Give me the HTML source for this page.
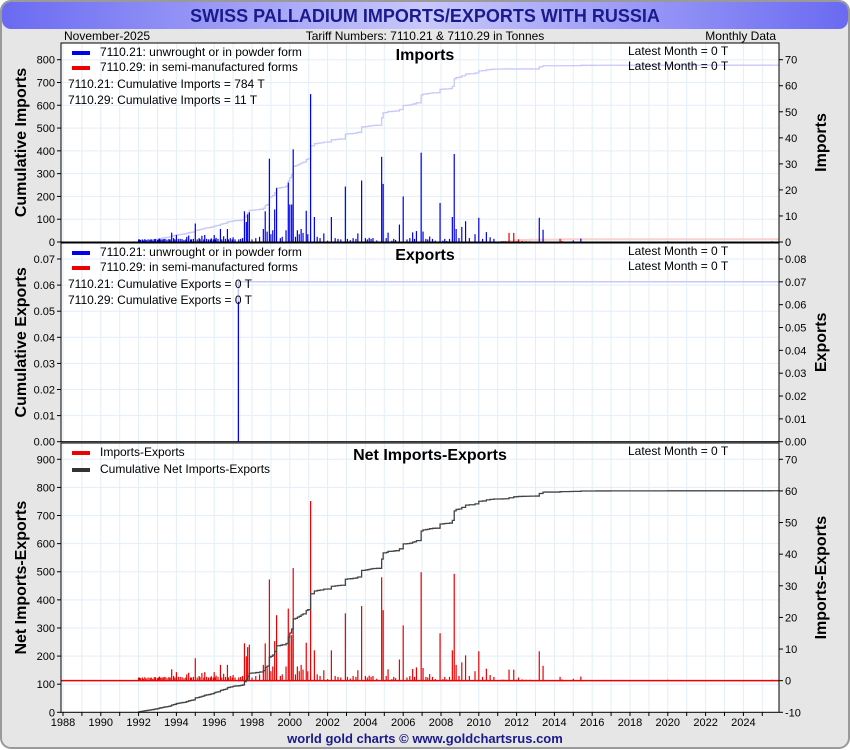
<!DOCTYPE html>
<html><head><meta charset="utf-8"><style>
body{margin:0;background:#fff;}
svg{display:block;font-family:"Liberation Sans",sans-serif;}
</style></head><body>
<svg id="c" width="850" height="750" viewBox="0 0 850 750" xmlns="http://www.w3.org/2000/svg">
<defs><linearGradient id="tg" x1="0" x2="1"><stop offset="0" stop-color="#6a6af2"/><stop offset="0.5" stop-color="#c8c8fb"/><stop offset="1" stop-color="#6a6af2"/></linearGradient></defs>
<rect x="1" y="1" width="848" height="747" rx="10" fill="#e6e6e6" stroke="#9a9a9a" stroke-width="2"/>
<rect x="2" y="2" width="846" height="27" rx="9" fill="url(#tg)"/>
<text x="425" y="22" text-anchor="middle" font-size="18" font-weight="bold" fill="#1a1a8c">SWISS PALLADIUM IMPORTS/EXPORTS WITH RUSSIA</text>
<text x="64" y="40" font-size="12">November-2025</text>
<text x="425" y="40" font-size="12" text-anchor="middle">Tariff Numbers: 7110.21 &amp; 7110.29 in Tonnes</text>
<text x="776" y="40" font-size="12" text-anchor="end">Monthly Data</text>
<text x="425" y="743" font-size="13" font-weight="bold" text-anchor="middle" fill="#1a1a8c">world gold charts © www.goldchartsrus.com</text>
<g id="g"></g>
</svg>
<script>
// 7110.21 imports (T, monthly)
const imp21Years=[1992.0,1992.05,1992.1,1992.2,1992.25,1992.33,1992.4,1992.5,1992.6,1992.67,1992.75,1992.83,1992.9,1993.0,1993.05,1993.1,1993.17,1993.25,1993.33,1993.4,1993.5,1993.6,1993.67,1993.75,1993.85,1993.92,1994.0,1994.1,1994.2,1994.3,1994.4,1994.5,1994.55,1994.65,1994.75,1994.8,1994.9,1995.0,1995.1,1995.2,1995.25,1995.35,1995.45,1995.5,1995.6,1995.7,1995.8,1995.85,1995.95,1996.0,1996.05,1996.1,1996.2,1996.33,1996.4,1996.5,1996.6,1996.7,1996.75,1996.85,1996.95,1997.0,1997.1,1997.3,1997.4,1997.5,1997.6,1997.7,1997.77,1997.86,1998.0,1998.2,1998.4,1998.6,1998.7,1998.8,1998.92,1999.0,1999.1,1999.2,1999.3,1999.5,1999.6,1999.8,1999.92,2000.0,2000.1,2000.18,2000.3,2000.4,2000.5,2000.6,2000.7,2000.87,2000.95,2001.1,2001.3,2001.45,2001.6,2001.8,2002.0,2002.2,2002.4,2002.55,2002.7,2002.94,2003.05,2003.2,2003.35,2003.5,2003.6,2003.8,2004.0,2004.1,2004.2,2004.3,2004.4,2004.6,2004.86,2004.94,2005.1,2005.2,2005.4,2005.5,2005.6,2005.8,2006.0,2006.2,2006.35,2006.5,2006.6,2006.7,2006.95,2007.05,2007.2,2007.3,2007.4,2007.55,2007.7,2007.95,2008.1,2008.2,2008.3,2008.45,2008.6,2008.7,2008.8,2008.95,2009.1,2009.3,2009.5,2009.8,2010.0,2010.2,2010.4,2010.6,2010.8,2011.2,2011.4,2013.2,2013.4,2015.0,2015.4,2016.2,2017.0,2020.0,2025.5];
const imp21Vals=[1.0,1.0,0.8,1.0,0.6,1.1,0.7,1.0,0.9,1.0,0.6,1.1,1.1,0.8,1.0,1.3,1.0,1.0,1.1,1.2,0.9,1.1,1.0,3.6,1.5,1.0,2.7,1.2,1.2,1.1,0.8,1.0,2.0,2.5,1.0,1.0,1.2,7.1,1.0,1.5,1.1,2.4,1.0,2.7,1.2,1.0,1.0,1.4,1.0,2.7,1.0,1.6,1.2,5.0,1.0,2.2,1.2,5.0,1.0,1.5,1.0,1.8,1.0,1.0,1.2,1.5,11.8,7.7,10.6,11.4,1.0,1.5,2.0,5.0,11.8,4.0,32.0,3.0,4.5,12.5,20.7,1.5,2.0,4.5,22.8,14.4,14.4,35.6,2.0,4.5,3.0,5.0,3.5,12.0,3.0,56.8,9.6,2.0,1.5,3.3,0.5,9.6,1.5,1.2,1.0,21.3,1.2,0.7,1.5,1.2,3.3,23.6,1.5,1.0,1.6,1.2,1.5,0.6,32.7,22.3,1.5,3.6,0.5,1.2,0.8,6.7,17.5,1.0,1.5,3.7,1.2,4.2,34.3,4.0,1.2,1.0,2.1,1.2,0.5,15.0,0.5,1.2,0.4,1.2,9.6,33.8,5.0,1.5,5.8,8.0,1.5,3.0,9.3,1.2,3.8,1.8,1.2,0.3,0.3,9.3,4.7,0.6,1.3,0.2,0.2,0.3,0.3];
// 7110.29 imports
const imp29Years=[2011.3,2011.6,2011.85,2012.0,2012.1,2012.3,2012.5,2012.7,2013.0,2013.3,2013.5,2014.3,2014.4,2014.8];
const imp29Vals=[0.3,3.5,3.5,0.3,1.0,0.4,0.3,0.3,0.2,0.2,0.2,1.2,0.4,0.2];
// exports
const exp21Years=[1997.28];
const exp21Vals=[0.0613];
const yearTicks=[1988,1990,1992,1994,1996,1998,2000,2002,2004,2006,2008,2010,2012,2014,2016,2018,2020,2022,2024];

const NS="http://www.w3.org/2000/svg";
const G=document.getElementById('g');
const X0=61,X1=779;
const xs=y=>63+(y-1988)*18.9;
function el(t,a,p){const e=document.createElementNS(NS,t);for(const k in a)e.setAttribute(k,a[k]);(p||G).appendChild(e);return e;}
function txt(x,y,s,a){const e=el('text',Object.assign({x:x,y:y,'font-size':12},a||{}));e.textContent=s;return e;}
function cum(ys,vs){const idx=ys.map((y,i)=>i).sort((a,b)=>ys[a]-ys[b]);const o=[];let s=0;idx.forEach(i=>{s+=vs[i];o.push([ys[i],s]);});return o;}

const P=[
 {name:'imports',top:43,bot:242,L:[0,800,100,0],R:[0,70,10],lt:'Cumulative Imports',rt:'Imports',title:'Imports'},
 {name:'exports',top:243,bot:441.7,L:[0,0.07,0.01,2],R:[0,0.08,0.01],lt:'Cumulative Exports',rt:'Exports',title:'Exports'},
 {name:'net',top:443,bot:712.3,L:[0,900,100,0],R:[-10,70,10],lt:'Net Imports-Exports',rt:'Imports-Exports',title:'Net Imports-Exports'}
];
const sc={
 imports:{ly:v=>242-v*(242-59.7)/800, ry:v=>242-v*(242-59.7)/70},
 exports:{ly:v=>441.7-v*(441.7-259)/0.07, ry:v=>441.7-v*(441.7-259)/0.08},
 net:{ly:v=>712.3-v*(712.3-459.3)/900, ry:v=>712.3-(v+10)*(712.3-459.3)/80}
};
P.forEach(p=>{
 const s=sc[p.name];
 const pg=el('g',{});
 
 
 const r=el('rect',{x:X0,y:p.top,width:X1-X0,height:p.bot-p.top,fill:'#fff'},pg);
 
 
 for(let y=1988;y<=2025;y++){const l=el('line',{x1:xs(y),x2:xs(y),y1:p.top,y2:p.bot,stroke:'#e2eef8','stroke-width':1});
  }
 for(let v=p.L[0];v<=p.L[1]+1e-9;v+=p.L[2]){const yy=s.ly(v);
  el('line',{x1:X0,x2:X1,y1:yy,y2:yy,stroke:'#e2eef8','stroke-width':1});
  el('line',{x1:X0-4,x2:X0,y1:yy,y2:yy,stroke:'#000'});
  const t=txt(X0-6,yy+4,v.toFixed(p.L[3]),{'text-anchor':'end','font-size':11});
  }
 for(let v=p.R[0];v<=p.R[1]+1e-9;v+=p.R[2]){const yy=s.ry(v);
  el('line',{x1:X1,x2:X1+4,y1:yy,y2:yy,stroke:'#000'});
  const t=txt(X1+6,yy+4,p.name==='exports'?v.toFixed(2):String(Math.round(v)),{'font-size':11});
  }
 const cy=(p.top+p.bot)/2;
 const lt=txt(0,0,p.lt,{'font-size':16,'font-weight':'bold','text-anchor':'middle',transform:`translate(26,${cy}) rotate(-90)`});
 
 const rt=txt(0,0,p.rt,{'font-size':16,'font-weight':'bold','text-anchor':'middle',transform:`translate(826,${cy}) rotate(-90)`});
 
 const tt=txt(p.name==='net'?430:425,p.top+17,p.title,{'font-size':16,'font-weight':'bold','text-anchor':'middle'});
 
});

function bars(ys,vs,ry,color,nm){ys.forEach((y,i)=>{const x=xs(y),y0=ry(0),y1=ry(vs[i]);
 const b=el('rect',{x:x-0.6,y:Math.min(y0,y1),width:1.2,height:Math.max(0.6,Math.abs(y0-y1)),fill:color});
 });}
function stepLine(pts,start,ly,color,w,nm){let d=`M${xs(start)},${ly(0)}`;let prev=0;
 pts.forEach(([y,v])=>{d+=` L${xs(y)},${ly(prev)} L${xs(y)},${ly(v)}`;prev=v;});
 d+=` L${X1},${ly(prev)}`;
 const e=el('path',{d:d,fill:'none',stroke:color,'stroke-width':w});
 }

const si=sc.imports;
stepLine(cum(imp21Years,imp21Vals),1992,si.ly,'#c8c8f8',1.3,'cumulative-imports-7110-21');
stepLine(cum(imp29Years,imp29Vals),2011.3,si.ly,'#fbd0d0',2,'cumulative-imports-7110-29');
bars(imp21Years,imp21Vals,si.ry,'#0000ee','import-bar-7110-21');
bars(imp29Years,imp29Vals,si.ry,'#ee0000','import-bar-7110-29');
const se=sc.exports;
stepLine(cum(exp21Years,exp21Vals),exp21Years[0],se.ly,'#c8c8f8',1.5,'cumulative-exports-7110-21');
bars(exp21Years,exp21Vals,se.ry,'#0000ee','export-bar-7110-21');
const sn=sc.net;
const netYears=imp21Years.concat(imp29Years,exp21Years);
const netVals=imp21Vals.concat(imp29Vals,exp21Vals.map(v=>-v));
const zl=el('line',{x1:X0,x2:X1,y1:sn.ry(0),y2:sn.ry(0),stroke:'#ee0000','stroke-width':1.5});

bars(netYears,netVals,sn.ry,'#ee0000','net-bar');
stepLine(cum(netYears,netVals),1992,sn.ly,'#444',1.3,'cumulative-net-line');

P.forEach(p=>{el('rect',{x:X0,y:p.top,width:X1-X0,height:p.bot-p.top,fill:'none',stroke:'#000','stroke-width':1});});

for(let y=1988;y<=2025;y++){el('line',{x1:xs(y),x2:xs(y),y1:712.3,y2:716,stroke:'#000'});}
yearTicks.forEach(y=>{const t=txt(xs(y),726,String(y),{'text-anchor':'middle','font-size':11});
 });

function leg(x,y,color,label,nm){const r=el('rect',{x:x,y:y-5,width:18,height:4,fill:color});
 
 const t=txt(x+28,y,label,{});}
[[43,'imports','Imports'],[243,'exports','Exports']].forEach(([t0,n,w])=>{
 leg(72,t0+13,'#0000ee','7110.21: unwrought or in powder form',n+'-legend-7110-21');
 leg(72,t0+28,'#ee0000','7110.29: in semi-manufactured forms',n+'-legend-7110-29');
 let a=txt(68,t0+45,'7110.21: Cumulative '+w+' = '+(n==='imports'?'784':'0')+' T');
 
 a=txt(68,t0+61,'7110.29: Cumulative '+w+' = '+(n==='imports'?'11':'0')+' T');
 
 a=txt(628,t0+12,'Latest Month = 0 T');
 a=txt(628,t0+27,'Latest Month = 0 T');
});
leg(72,456,'#ee0000','Imports-Exports','net-legend-bars');
leg(72,473,'#333','Cumulative Net Imports-Exports','net-legend-cumulative');
const ln=txt(628,455,'Latest Month = 0 T');
</script>
</body></html>
